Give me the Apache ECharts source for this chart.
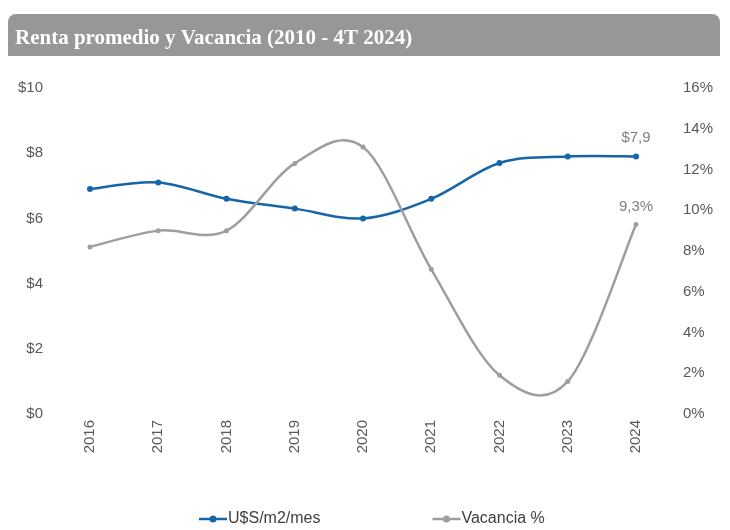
<!DOCTYPE html>
<html><head><meta charset="utf-8">
<script src="https://cdn.jsdelivr.net/npm/echarts@6/dist/echarts.min.js"></script>
<style>html,body{margin:0;padding:0;background:#fff}#c{width:730px;height:530px}</style>
</head><body><div id="c"></div>
<script>
const categories = ['2016','2017','2018','2019','2020','2021','2022','2023','2024'];
const renta = [6.9, 7.1, 6.6, 6.3, 6.0, 6.6, 7.7, 7.9, 7.9];
const vacancia = [8.2, 9.0, 9.0, 12.3, 13.1, 7.1, 1.9, 1.6, 9.3];
const leftTicks = [0, 2, 4, 6, 8, 10];
const rightTicks = [0, 2, 4, 6, 8, 10, 12, 14, 16];
const titleText = 'Renta promedio y Vacancia (2010 - 4T 2024)';

const BLUE = '#1565a8', GRAY = '#9e9e9e';
const FONT = 'Arial, "Liberation Sans", sans-serif';
const labelColor = '#595959';

// Excel-like Catmull-Rom smoothing drawn through the axis scales
function smoothPath(pts) {
  let d = 'M' + pts[0][0] + ',' + pts[0][1];
  for (let i = 0; i < pts.length - 1; i++) {
    const p0 = pts[Math.max(i - 1, 0)], p1 = pts[i], p2 = pts[i + 1], p3 = pts[Math.min(i + 2, pts.length - 1)];
    const c1 = [p1[0] + (p2[0] - p0[0]) / 6, p1[1] + (p2[1] - p0[1]) / 6];
    const c2 = [p2[0] - (p3[0] - p1[0]) / 6, p2[1] - (p3[1] - p1[1]) / 6];
    d += 'C' + c1[0] + ',' + c1[1] + ' ' + c2[0] + ',' + c2[1] + ' ' + p2[0] + ',' + p2[1];
  }
  return d;
}
function curveSeries(name, values, axisIndex, color) {
  return {
    name: name, type: 'custom', yAxisIndex: axisIndex, silent: true, z: 1,
    data: [[0, values[0]]],
    renderItem: function (params, api) {
      const pts = values.map((v, i) => api.coord([i, v]));
      return {type: 'path', shape: {pathData: smoothPath(pts)},
              style: {stroke: color, fill: 'none', lineWidth: 2.5, lineJoin: 'round'}};
    }
  };
}

const chart = echarts.init(document.getElementById('c'));
const legendIcon = 'path://M0,2.3H10.8V4.7H0Z M17.2,2.3H28V4.7H17.2Z M10.5,3.5A3.5,3.5 0 1 1 17.5,3.5A3.5,3.5 0 1 1 10.5,3.5Z';
chart.setOption({
  animation: false,
  graphic: [
    {type:'rect', shape:{x:8, y:14, width:712, height:42, r:[8,8,0,0]}, style:{fill:'#979797'}},
    {type:'text', left:15, top:28, style:{text:titleText, fill:'#fff', font:'bold 21px "Liberation Serif", "Times New Roman", serif'}}
  ],
  grid: {left:90, right:94, top:88, bottom:116},
  legend: {
    left:194, top:506, itemGap:112, itemWidth:28, itemHeight:7,
    textStyle:{color:'#404040', fontSize:16, fontFamily:FONT, padding:[0,0,0,-4]},
    data:[{name:'U$S/m2/mes', icon:legendIcon}, {name:'Vacancia %', icon:legendIcon}]
  },
  xAxis: {
    type:'category', data:categories, boundaryGap:false,
    axisLine:{show:false}, axisTick:{show:false},
    axisLabel:{rotate:90, color:labelColor, fontSize:15, margin:6, fontFamily:FONT}
  },
  yAxis: [
    {type:'value', min:leftTicks[0], max:leftTicks[leftTicks.length-1], interval:2, splitLine:{show:false}, axisLine:{show:false}, axisTick:{show:false},
     axisLabel:{margin:47, color:labelColor, fontSize:15, fontFamily:FONT, formatter:v=>'$'+v}},
    {type:'value', min:rightTicks[0], max:rightTicks[rightTicks.length-1], interval:2, splitLine:{show:false}, axisLine:{show:false}, axisTick:{show:false},
     axisLabel:{margin:47, color:labelColor, fontSize:15, fontFamily:FONT, formatter:v=>v+'%'}}
  ],
  series: [
    curveSeries('_rentaCurve', renta, 0, BLUE),
    curveSeries('_vacCurve', vacancia, 1, GRAY),
    {name:'U$S/m2/mes', type:'line', data:renta, yAxisIndex:0, z:3,
     symbol:'circle', symbolSize:6, itemStyle:{color:BLUE}, lineStyle:{width:0, opacity:0},
     label:{show:true, position:'top', distance:8, color:'#808080', fontSize:15, fontFamily:FONT,
       formatter:p=>p.dataIndex===renta.length-1 ? '$'+String(p.value).replace('.',',') : ''}},
    {name:'Vacancia %', type:'line', data:vacancia, yAxisIndex:1, z:3,
     symbol:'circle', symbolSize:5, itemStyle:{color:GRAY}, lineStyle:{width:0, opacity:0},
     label:{show:true, position:'top', distance:8, color:'#808080', fontSize:15, fontFamily:FONT,
       formatter:p=>p.dataIndex===vacancia.length-1 ? String(p.value).replace('.',',')+'%' : ''}}
  ]
});
</script></body></html>
